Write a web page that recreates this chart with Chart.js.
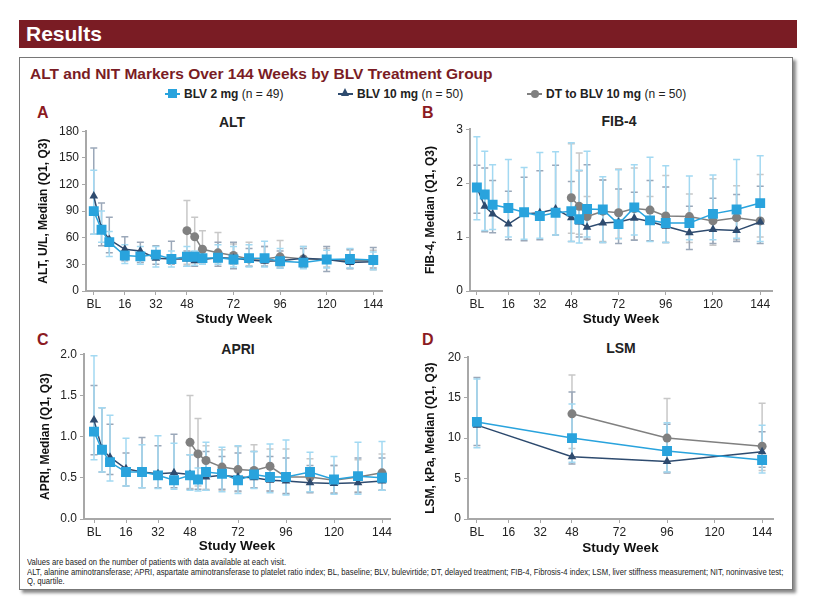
<!DOCTYPE html>
<html>
<head>
<meta charset="utf-8">
<script src="https://cdn.jsdelivr.net/npm/chart.js@4.4.1/dist/chart.umd.min.js"></script>
<style>
  body { margin: 0; width: 819px; height: 603px; background: #fff; position: relative; overflow: hidden;
         font-family: Arial, "Liberation Sans", sans-serif; color: #222; }
  .abs { position: absolute; }
  #bar { left: 19px; top: 20px; width: 778px; height: 28px; background: #7a1c24; }
  #bar span { position: absolute; left: 7px; top: 2px; color: #fff; font-weight: bold; font-size: 21px; }
  #box { left: 19px; top: 57px; width: 772px; height: 531px; border: 1px solid #777; box-shadow: 3px 3px 3px #888; }
  #title { left: 30px; top: 65px; font-size: 15.5px; font-weight: bold; color: #7a1c24; white-space: nowrap; }
  .leg { top: 87px; font-size: 12px; white-space: nowrap; height: 14px; line-height: 14px; }
  .leg b { margin-left: 19px; }
  .leg .ln { position: absolute; left: 0; top: 6px; width: 15px; height: 2px; }
  .leg .mk { position: absolute; }
  .letter { font-size: 16px; font-weight: bold; color: #8b1a22; }
  .ptitle { font-size: 14px; font-weight: bold; transform: translate(-50%, -50%); white-space: nowrap; }
  canvas { position: absolute; }
  #foot { left: 27px; top: 558px; font-size: 9px; line-height: 9.5px; color: #222; white-space: nowrap;
          transform: scaleX(0.855); transform-origin: 0 0; }
</style>
</head>
<body>
<div id="bar" class="abs"><span>Results</span></div>
<div id="box" class="abs"></div>
<div id="title" class="abs">ALT and NIT Markers Over 144 Weeks by BLV Treatment Group</div>

<div class="abs leg" style="left:165px"><span class="ln" style="background:#29a3dd"></span><span class="mk" style="left:3px;top:2px;width:9px;height:9px;background:#29a3dd"></span><b>BLV 2 mg</b> (n = 49)</div>
<div class="abs leg" style="left:338px"><span class="ln" style="background:#2e4b6f"></span><span class="mk" style="left:3px;top:1px;width:0;height:0;border-left:4.5px solid transparent;border-right:4.5px solid transparent;border-bottom:8px solid #2e4b6f"></span><b>BLV 10 mg</b> (n = 50)</div>
<div class="abs leg" style="left:527px"><span class="ln" style="background:#808080"></span><span class="mk" style="left:3.5px;top:3px;width:8px;height:8px;border-radius:50%;background:#808080"></span><b>DT to BLV 10 mg</b> (n = 50)</div>

<div class="abs letter" style="left:37px;top:104px">A</div>
<div class="abs letter" style="left:422px;top:104px">B</div>
<div class="abs letter" style="left:37px;top:331px">C</div>
<div class="abs letter" style="left:422px;top:331px">D</div>

<div class="abs ptitle" style="left:232px;top:122px">ALT</div>
<div class="abs ptitle" style="left:619px;top:121px">FIB-4</div>
<div class="abs ptitle" style="left:238px;top:349px">APRI</div>
<div class="abs ptitle" style="left:621px;top:348px">LSM</div>

<canvas id="cA" width="375" height="206" style="left:20px;top:121px"></canvas>
<canvas id="cB" width="380" height="208" style="left:405px;top:119px"></canvas>
<canvas id="cC" width="383" height="210" style="left:20px;top:344px"></canvas>
<canvas id="cD" width="381" height="209" style="left:405px;top:347px"></canvas>

<div id="foot" class="abs">Values are based on the number of patients with data available at each visit.<br>ALT, alanine aminotransferase; APRI, aspartate aminotransferase to platelet ratio index; BL, baseline; BLV, bulevirtide; DT, delayed treatment; FIB-4, Fibrosis-4 index; LSM, liver stiffness measurement; NIT, noninvasive test;<br>Q, quartile.</div>

<script>
// weeks
const weeks = [0, 4, 8, 16, 24, 32, 40, 48, 52, 56, 64, 72, 80, 88, 96, 108, 120, 132, 144];
const dtWeeks = [48, 52, 56, 64, 72, 80, 88, 96, 108, 120, 132, 144];
const lsmWeeks = [0, 48, 96, 144];
const lsmDtWeeks = [48, 96, 144];
const tickWeeks = [0, 16, 32, 48, 72, 96, 120, 144];
const tickLabels = ["BL", "16", "32", "48", "72", "96", "120", "144"];

// ALT, U/L
const alt2Med = [90, 69, 55, 40, 39, 41, 36, 38.5, 38.5, 37, 37.5, 35.5, 37, 37, 33.5, 32, 35.5, 36, 35];
const alt2Q1 = [64, 55, 39, 31, 30, 27, 27, 28, 29, 30, 30, 27, 27, 27, 26, 25, 26, 26, 24];
const alt2Q3 = [136, 90, 67, 52, 50, 50, 45, 50, 45, 48, 52, 50, 52, 56, 48, 50, 46, 48, 44];
const alt10Med = [107, 70, 58, 47, 45, 37, 36, 36, 34, 35.5, 37.5, 37, 35, 33.5, 34, 37, 35.5, 32, 33];
const alt10Q1 = [64, 51, 43, 34, 32, 30, 30, 28, 28, 30, 28, 25, 28, 28, 26, 27, 22, 25, 26];
const alt10Q3 = [161, 99, 83, 61, 55, 51, 56, 45, 44, 46, 55, 55, 48, 50, 45, 48, 50, 47, 49];
const altDtMed = [68, 61, 47, 43, 40, 36, 36, 38.5, 36, 35.5, 34, 34];
const altDtQ1 = [30, 32, 34, 32, 30, 28, 28, 28, 26, 27, 26, 24];
const altDtQ3 = [102, 83, 68, 66, 53, 55, 50, 57, 50, 48, 46, 46];

// FIB-4
const fib2Med = [1.92, 1.79, 1.60, 1.54, 1.46, 1.39, 1.45, 1.48, 1.33, 1.52, 1.51, 1.24, 1.55, 1.31, 1.26, 1.26, 1.43, 1.51, 1.63];
const fib2Q1 = [1.32, 1.12, 1.14, 1.00, 0.96, 0.98, 1.04, 0.92, 0.89, 1.00, 0.90, 0.97, 1.04, 0.92, 0.90, 0.95, 0.95, 0.98, 0.92];
const fib2Q3 = [2.86, 2.59, 2.34, 2.44, 2.29, 2.57, 2.58, 2.75, 2.24, 2.59, 2.12, 2.25, 2.34, 2.48, 2.32, 2.13, 2.15, 2.44, 2.51];
const fib10Med = [1.92, 1.57, 1.43, 1.24, 1.43, 1.45, 1.52, 1.36, 1.28, 1.18, 1.26, 1.28, 1.35, 1.29, 1.20, 1.08, 1.14, 1.12, 1.28];
const fib10Q1 = [1.44, 1.10, 1.08, 0.95, 0.93, 0.95, 1.04, 0.92, 1.00, 0.96, 0.90, 0.88, 0.94, 0.93, 0.90, 0.77, 0.88, 0.92, 0.88];
const fib10Q3 = [2.33, 2.28, 2.05, 1.85, 2.11, 2.23, 2.33, 2.03, 2.23, 2.34, 2.06, 1.89, 1.83, 2.05, 1.93, 1.57, 1.72, 1.79, 1.94];
const fibDtMed = [1.73, 1.57, 1.38, 1.48, 1.45, 1.53, 1.50, 1.39, 1.38, 1.30, 1.36, 1.30];
const fibDtQ1 = [1.07, 1.05, 0.95, 0.92, 0.98, 0.95, 0.93, 0.90, 0.90, 0.85, 0.95, 1.00];
const fibDtQ3 = [2.73, 2.56, 1.75, 2.06, 2.26, 2.28, 1.75, 2.14, 1.80, 2.08, 1.95, 2.16];

// APRI
const apri2Med = [1.06, 0.84, 0.69, 0.57, 0.57, 0.53, 0.47, 0.53, 0.48, 0.57, 0.55, 0.47, 0.54, 0.51, 0.51, 0.57, 0.48, 0.52, 0.50];
const apri2Q1 = [0.72, 0.57, 0.46, 0.40, 0.38, 0.37, 0.36, 0.35, 0.34, 0.35, 0.33, 0.31, 0.37, 0.32, 0.29, 0.33, 0.30, 0.30, 0.35];
const apri2Q3 = [1.98, 1.35, 1.26, 0.98, 0.90, 1.01, 0.92, 0.78, 0.62, 0.93, 0.87, 0.89, 0.82, 0.91, 0.96, 0.81, 0.76, 0.93, 0.94];
const apri10Med = [1.20, 0.85, 0.75, 0.61, 0.57, 0.55, 0.56, 0.54, 0.48, 0.51, 0.53, 0.51, 0.50, 0.47, 0.46, 0.44, 0.43, 0.44, 0.46];
const apri10Q1 = [0.78, 0.57, 0.54, 0.40, 0.38, 0.38, 0.38, 0.36, 0.36, 0.35, 0.36, 0.34, 0.38, 0.34, 0.31, 0.32, 0.31, 0.32, 0.35];
const apri10Q3 = [1.62, 1.35, 1.15, 0.80, 0.99, 0.89, 1.03, 0.78, 0.77, 0.82, 0.76, 0.80, 0.82, 0.76, 0.74, 0.65, 0.65, 0.74, 0.74];
const apriDtMed = [0.93, 0.79, 0.71, 0.63, 0.60, 0.59, 0.64, 0.51, 0.51, 0.47, 0.51, 0.56];
const apriDtQ1 = [0.37, 0.40, 0.36, 0.35, 0.33, 0.38, 0.34, 0.30, 0.33, 0.32, 0.33, 0.35];
const apriDtQ3 = [1.50, 1.22, 0.89, 0.84, 0.88, 0.90, 0.85, 0.85, 0.73, 0.65, 0.72, 0.79];

// LSM, kPa
const lsm2Med = [12.0, 10.0, 8.4, 7.3];
const lsm2Q1 = [8.8, 7.0, 5.8, 5.7];
const lsm2Q3 = [17.3, 14.2, 11.9, 11.6];
const lsm10Med = [11.6, 7.7, 7.1, 8.3];
const lsm10Q1 = [9.1, 6.8, 5.7, 6.4];
const lsm10Q3 = [17.5, 15.7, 11.7, 10.8];
const lsmDtMed = [13.0, 10.0, 9.0];
const lsmDtQ1 = [8.7, 5.8, 6.0];
const lsmDtQ3 = [17.8, 14.9, 14.3];

const BLUE = "#29a3dd", BLUE_BAR = "#a3d9f2";
const NAVY = "#2e4b6f", NAVY_BAR = "#9ba8b9";
const GREY = "#808080", GREY_BAR = "#c8c8c8";
const AXIS = "#a8a8a8";

Chart.defaults.font.family = "Arial, 'Liberation Sans', sans-serif";
Chart.defaults.color = "#222";

// draws Q1-Q3 whiskers under the lines
const errorBars = {
    id: "errorBars",
    beforeDatasetsDraw(chart) {
        const ctx = chart.ctx;
        const xs = chart.scales.x, ys = chart.scales.y;
        for (let d = chart.data.datasets.length - 1; d >= 0; d--) {
            const ds = chart.data.datasets[d];
            ctx.save();
            ctx.strokeStyle = ds.barColor;
            ctx.lineWidth = 1.5;
            ds.data.forEach((p, i) => {
                const x = xs.getPixelForValue(p.x);
                const y1 = ys.getPixelForValue(ds.q1[i]);
                const y3 = ys.getPixelForValue(ds.q3[i]);
                ctx.beginPath();
                ctx.moveTo(x, y1); ctx.lineTo(x, y3);
                ctx.moveTo(x - 3.5, y1); ctx.lineTo(x + 3.5, y1);
                ctx.moveTo(x - 3.5, y3); ctx.lineTo(x + 3.5, y3);
                ctx.stroke();
            });
            ctx.restore();
        }
    },
};

function series(xv, med, q1, q3, color, barColor, style, radius) {
    return {
        data: xv.map((w, i) => ({ x: w, y: med[i] })),
        q1: q1,
        q3: q3,
        barColor: barColor,
        borderColor: color,
        backgroundColor: color,
        borderWidth: 1.5,
        pointStyle: style,
        pointRadius: radius,
        pointBorderWidth: 0,
        pointBackgroundColor: color,
        tension: 0,
    };
}

function makePanel(id, sets, cfg) {
    new Chart(document.getElementById(id), {
        type: "line",
        data: { datasets: sets },
        plugins: [errorBars],
        options: {
            responsive: false,
            animation: false,
            layout: { padding: { top: 10, right: cfg.padRight, left: 0, bottom: 0 } },
            plugins: { legend: { display: false }, tooltip: { enabled: false } },
            scales: {
                x: {
                    type: "linear",
                    min: cfg.xMin,
                    max: cfg.xMax,
                    afterBuildTicks: (s) => { s.ticks = tickWeeks.map((v) => ({ value: v })); },
                    afterFit: (s) => { s.height = cfg.xHeight; },
                    ticks: {
                        autoSkip: false,
                        maxRotation: 0,
                        padding: 2,
                        font: { size: 12 },
                        callback: (v) => tickLabels[tickWeeks.indexOf(v)],
                    },
                    grid: { drawOnChartArea: false, drawTicks: true, tickLength: 4, color: AXIS, lineWidth: 1 },
                    border: { color: AXIS, width: 2 },
                    title: { display: true, text: "Study Week", font: { size: 13.5, weight: "bold" }, color: "#111",
                             padding: { top: 0, bottom: 0 } },
                },
                y: {
                    min: cfg.yMin,
                    max: cfg.yMax,
                    afterBuildTicks: (s) => { s.ticks = cfg.yTicks.map((v) => ({ value: v })); },
                    afterFit: (s) => { s.width = cfg.yWidth; },
                    ticks: { padding: 3, font: { size: 12 }, callback: cfg.yFmt },
                    grid: { drawOnChartArea: false, drawTicks: true, tickLength: 4, color: AXIS, lineWidth: 1 },
                    border: { color: AXIS, width: 2 },
                    title: { display: true, text: cfg.yTitle, font: { size: 12, weight: "bold" }, color: "#111",
                             padding: { top: cfg.yTitlePad, bottom: 0 } },
                },
            },
        },
    });
}

const intFmt = (v) => String(v);

makePanel("cA", [
    series(weeks, alt2Med, alt2Q1, alt2Q3, BLUE, BLUE_BAR, "rect", 7),
    series(weeks, alt10Med, alt10Q1, alt10Q3, NAVY, NAVY_BAR, "triangle", 5),
    series(dtWeeks, altDtMed, altDtQ1, altDtQ3, GREY, GREY_BAR, "circle", 4.5),
], { xMin: -4, xMax: 148.5, yMin: 0, yMax: 180, yTicks: [0, 30, 60, 90, 120, 150, 180], yFmt: intFmt,
     yTitle: "ALT, U/L, Median (Q1, Q3)", yWidth: 66, yTitlePad: 16, xHeight: 36, padRight: 13 });

makePanel("cB", [
    series(weeks, fib2Med, fib2Q1, fib2Q3, BLUE, BLUE_BAR, "rect", 7),
    series(weeks, fib10Med, fib10Q1, fib10Q3, NAVY, NAVY_BAR, "triangle", 5),
    series(dtWeeks, fibDtMed, fibDtQ1, fibDtQ3, GREY, GREY_BAR, "circle", 4.5),
], { xMin: -3.5, xMax: 150, yMin: 0, yMax: 3, yTicks: [0, 1, 2, 3], yFmt: intFmt,
     yTitle: "FIB-4, Median (Q1, Q3)", yWidth: 65, yTitlePad: 18, xHeight: 36, padRight: 13 });

makePanel("cC", [
    series(weeks, apri2Med, apri2Q1, apri2Q3, BLUE, BLUE_BAR, "rect", 7),
    series(weeks, apri10Med, apri10Q1, apri10Q3, NAVY, NAVY_BAR, "triangle", 5),
    series(dtWeeks, apriDtMed, apriDtQ1, apriDtQ3, GREY, GREY_BAR, "circle", 4.5),
], { xMin: -5, xMax: 148, yMin: 0, yMax: 2, yTicks: [0, 0.5, 1, 1.5, 2], yFmt: (v) => v.toFixed(1),
     yTitle: "APRI, Median (Q1, Q3)", yWidth: 64, yTitlePad: 18, xHeight: 35, padRight: 13 });

makePanel("cD", [
    series(lsmWeeks, lsm2Med, lsm2Q1, lsm2Q3, BLUE, BLUE_BAR, "rect", 7),
    series(lsmWeeks, lsm10Med, lsm10Q1, lsm10Q3, NAVY, NAVY_BAR, "triangle", 5),
    series(lsmDtWeeks, lsmDtMed, lsmDtQ1, lsmDtQ3, GREY, GREY_BAR, "circle", 4.5),
], { xMin: -4.5, xMax: 149.5, yMin: 0, yMax: 20, yTicks: [0, 5, 10, 15, 20], yFmt: intFmt,
     yTitle: "LSM, kPa, Median (Q1, Q3)", yWidth: 63, yTitlePad: 18, xHeight: 37, padRight: 13 });
</script>
</body>
</html>
